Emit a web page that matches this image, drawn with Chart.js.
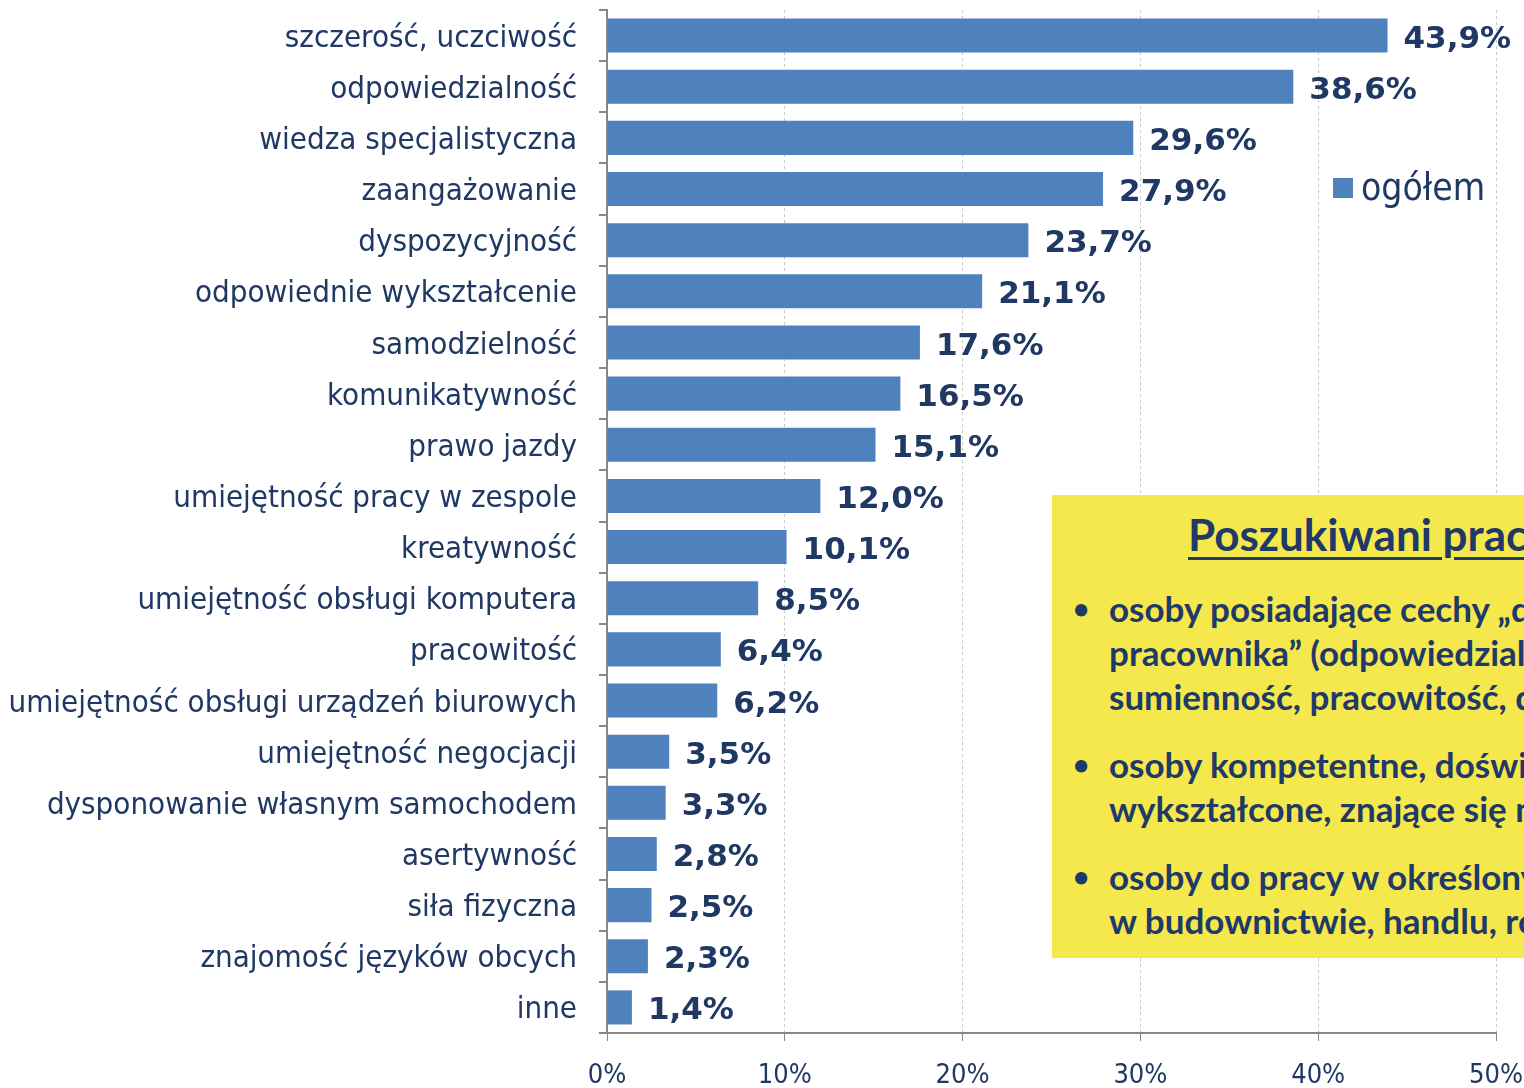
<!DOCTYPE html>
<html>
<head>
<meta charset="utf-8">
<script src="https://cdn.jsdelivr.net/npm/chart.js@4.4.1/dist/chart.umd.min.js"></script>
<style>
  body { margin: 0; background: #fff; overflow: hidden; }
  #wrap { position: relative; width: 1524px; height: 1088px; overflow: hidden; }
  #legend { position: absolute; left: 1333px; top: 166px; font: 37px "DejaVu Sans Condensed", sans-serif; color: #1F3864; white-space: nowrap; }
  #legend .sw { display: inline-block; width: 20px; height: 20px; background: #4F81BD; margin-right: 8px; vertical-align: 2px; }
  #note { position: absolute; left: 1052px; top: 495px; width: 700px; height: 463px; background: #F5E84C; color: #1F3A68; font-family: Lato, "Open Sans", sans-serif; font-weight: bold; white-space: nowrap; }
  #note h2 { margin: 0; position: absolute; left: 136px; top: 13px; font-size: 44px; text-decoration: underline; text-underline-offset: 6px; text-decoration-thickness: 3px; }
  #note ul { margin: 0; padding: 0; list-style: none; position: absolute; left: 27px; top: 91px; }
  #note li { position: relative; padding-left: 30px; font-size: 35px; line-height: 44px; margin-bottom: 24px; }
  #note li::before { content: "•"; position: absolute; left: -6px; top: 0; font-size: 28px; }
</style>
</head>
<body>
<div id="wrap">
  <canvas id="c" width="1524" height="1088"></canvas>
  <div id="legend"><span class="sw"></span>ogółem</div>
  <div id="note">
    <h2>Poszukiwani pracownicy</h2>
    <ul>
      <li>osoby posiadające cechy „dobrego<br>pracownika” (odpowiedzialność,<br>sumienność, pracowitość, dyspozycyjność)</li>
      <li>osoby kompetentne, doświadczone,<br>wykształcone, znające się na rzeczy</li>
      <li>osoby do pracy w określonych branżach,<br>w budownictwie, handlu, rolnictwie</li>
    </ul>
  </div>
</div>
<script>
const categories = [
  "szczerość, uczciwość",
  "odpowiedzialność",
  "wiedza specjalistyczna",
  "zaangażowanie",
  "dyspozycyjność",
  "odpowiednie wykształcenie",
  "samodzielność",
  "komunikatywność",
  "prawo jazdy",
  "umiejętność pracy w zespole",
  "kreatywność",
  "umiejętność obsługi komputera",
  "pracowitość",
  "umiejętność obsługi urządzeń biurowych",
  "umiejętność negocjacji",
  "dysponowanie własnym samochodem",
  "asertywność",
  "siła fizyczna",
  "znajomość języków obcych",
  "inne"
];
const ogolem = [43.9, 38.6, 29.6, 27.9, 23.7, 21.1, 17.6, 16.5, 15.1, 12.0, 10.1, 8.5, 6.4, 6.2, 3.5, 3.3, 2.8, 2.5, 2.3, 1.4];
const xTicks = [0, 10, 20, 30, 40, 50];

const navy = "#1F3864";

// etykiety wartości na końcu słupków
const valueLabels = {
  id: "valueLabels",
  afterDatasetsDraw(chart) {
    const ctx = chart.ctx;
    const meta = chart.getDatasetMeta(0);
    ctx.save();
    ctx.font = "bold 31px 'DejaVu Sans', sans-serif";
    ctx.fillStyle = navy;
    ctx.textAlign = "left";
    ctx.textBaseline = "middle";
    meta.data.forEach((bar, i) => {
      const txt = ogolem[i].toFixed(1).replace(".", ",") + "%";
      ctx.fillText(txt, bar.x + 16, bar.y + 4);
    });
    ctx.restore();
  }
};

new Chart(document.getElementById("c"), {
  type: "bar",
  data: {
    labels: categories,
    datasets: [{
      label: "ogółem",
      data: ogolem,
      backgroundColor: "#4F81BD",
      barPercentage: 0.9,
      categoryPercentage: 0.74
    }]
  },
  options: {
    indexAxis: "y",
    responsive: false,
    animation: false,
    layout: { padding: { top: 10, right: 28, left: 0, bottom: 0 } },
    plugins: { legend: { display: false }, tooltip: { enabled: false } },
    scales: {
      x: {
        min: 0,
        max: 50,
        afterBuildTicks: (axis) => { axis.ticks = xTicks.map(v => ({ value: v })); },
        afterFit: (axis) => {
          axis.height = 55;
          axis.paddingLeft = 0;
          axis.paddingRight = 0;
        },
        ticks: {
          callback: v => v + "%",
          color: navy,
          font: { family: "'DejaVu Sans Condensed', sans-serif", size: 27 },
          padding: 19,
          maxRotation: 0
        },
        grid: {
          color: "#C8C8C8",
          tickColor: "#888",
          tickBorderDash: [],
          tickLength: 8,
          lineWidth: 1
        },
        border: { color: "#888", width: 2, dash: [3, 3] }
      },
      y: {
        afterFit: (axis) => {
          axis.width = 607;
          axis.paddingTop = 0;
          axis.paddingBottom = 0;
        },
        ticks: {
          color: navy,
          font: { family: "'DejaVu Sans Condensed', sans-serif", size: 31 },
          padding: 22,
          labelOffset: 3
        },
        grid: {
          offset: true,
          drawOnChartArea: false,
          tickColor: "#888",
          tickLength: 8,
          lineWidth: 2
        },
        border: { color: "#888", width: 2 }
      }
    }
  },
  plugins: [valueLabels]
});
</script>
</body>
</html>
